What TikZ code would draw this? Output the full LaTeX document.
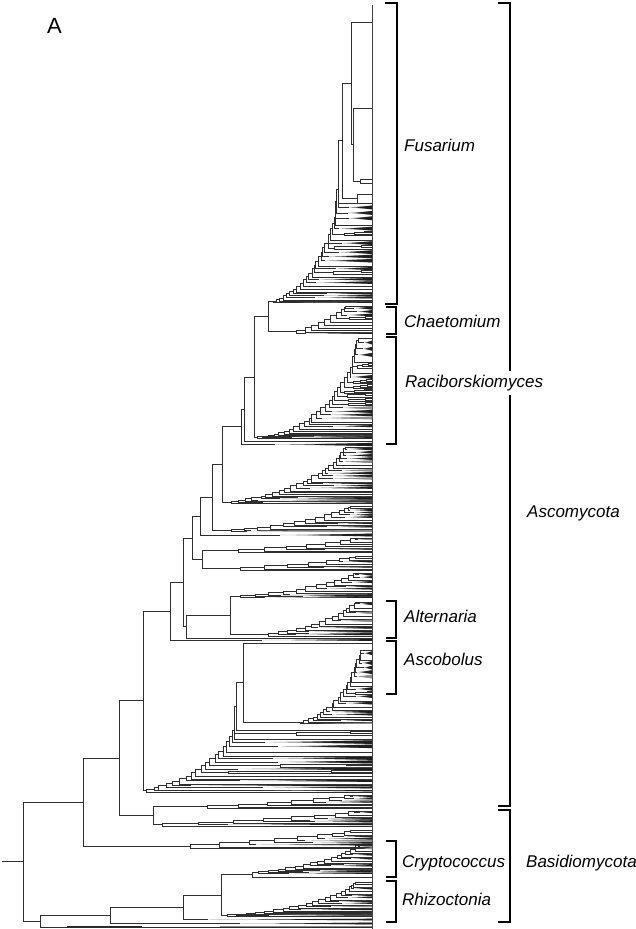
\documentclass[tikz,border=0pt]{standalone}
\usepackage{fontspec}
\setmainfont{Liberation Sans}
\usetikzlibrary{calc}
\def\tipx{372}
\def\Ltop{}
\def\Lp{1.6}
\def\Pw{0.5}
\def\Pm{0.28}
\tikzset{
  br/.style={line width=0.8pt, draw=black!82},
  wedgeA/.style={fill=black!88},
  wedgeB/.style={fill=black!45},
  bracket/.style={line width=1.2pt, draw=black},
  clade/.style={font=\fontsize{17}{20}\selectfont\itshape, anchor=base west, inner sep=0pt},
}
% join two children at a node with abscissa #2
\newcommand\tjoin[4]{%
  \coordinate (J) at (#2,0);
  \draw[br] (#3) -- (#3 -| J) -- (#4 -| J) -- (#4);
  \coordinate (#1) at ($(#3 -| J)!0.5!(#4 -| J)$);
}
% wedge-shaped dense tip group: name, x, y, h, style
\newcommand\wtip[5]{%
  \fill[wedgeB] (#2,#3) -- (\tipx,#3-#4/2) -- (\tipx,#3+#4/2) -- cycle;
  \fill[#5] ({#2+(\tipx-#2)*0.3},#3) -- (\tipx,#3-#4/2) -- (\tipx,#3+#4/2) -- cycle;
  \coordinate (#1) at (#2,#3);
}
% small staircase: name, xs, ytop, h, k
\newcommand\mini[5]{%
  \pgfmathsetmacro\mxe{#2+(\tipx-#2)*0.72}%
  \coordinate (#1-m0) at (\tipx,#3);
  \pgfmathtruncatemacro\mkm{#5-1}%
  \foreach \mi in {1,...,\mkm}{%
    \pgfmathtruncatemacro\mj{\mi-1}%
    \pgfmathsetmacro\mty{#3+#4*\mi/(#5-1)}%
    \pgfmathsetmacro\mnx{\mxe-(\mxe-#2)*(\mi-1)/max(1,#5-2)}%
    \coordinate (MJ) at (\mnx,0);
    \coordinate (#1-q\mi) at (\tipx,\mty);
    \draw[br] (#1-q\mi) -- (#1-q\mi -| MJ) -- (#1-m\mj -| MJ) -- (#1-m\mj);
    \coordinate (#1-m\mi) at ($(#1-q\mi -| MJ)!0.5!(#1-m\mj -| MJ)$);
  }%
}
% ladder clade: name, x0, x1, ybot, ytop, n, q
\newcommand\ladder[7]{%
  \pgfmathtruncatemacro\Ltopi{#6-1}%
  \pgfmathtruncatemacro\Lstart{#6-2}%
  \ifx\Ltop\empty
    \coordinate (#1-a\Ltopi) at (\tipx,#5);
  \else
    \coordinate (#1-a\Ltopi) at (\Ltop);
  \fi
  \foreach \i in {\Lstart,...,0}{%
    \pgfmathtruncatemacro\j{\i+1}%
    \pgfmathsetmacro\ty{#4-(#4-#5)*max(\i/(#6-1),0.01)^#7}%
    \pgfmathsetmacro\gp{(#4-#5)*(((\i+1)/(#6-1))^#7-max(\i/(#6-1),0.01)^#7)}%
    \pgfmathsetmacro\uu{\i/max(1,#6-2)}%
    \pgfmathsetmacro\nx{#2+(#3-#2)*(1-max(1-\uu,0.01)^\Lp)+(rnd-0.5)*2.5*(\i>0)*(\i<#6-2)}%
    \pgfmathsetmacro\hh{min(0.85*\gp,8)}%
    \pgfmathsetmacro\rr{rnd}%
    \pgfmathtruncatemacro\kind{(\rr<\Pw)?1:(((\rr<\Pw+\Pm)&&(\hh>2.6))?2:0)}%
    \pgfmathsetmacro\wx{\nx+(\tipx-\nx)*(0.05+0.45*rnd)}%
    \ifcase\kind\relax
      \coordinate (#1-t\i) at (\tipx,\ty);
    \or
      \pgfmathsetmacro\hw{min(max(\hh,1.3),3.8)}%
      \pgfmathsetmacro\cc{rnd}%
      \pgfmathsetmacro\wy{\ty-\hw/2}%
      \ifdim\cc pt<0.78pt \def\wst{wedgeA}\else\def\wst{wedgeB}\fi
      \wtip{#1-t\i}{\wx}{\wy}{\hw}{\wst}
    \or
      \pgfmathtruncatemacro\kk{min(7,max(3,floor(\hh/1.3)+1))}%
      \pgfmathtruncatemacro\mk{\kk-1}%
      \mini{#1-s\i}{\wx}{\ty-\hh}{\hh}{\kk}%
      \coordinate (#1-t\i) at (#1-s\i-m\mk);
    \fi
    \coordinate (J) at (\nx,0);
    \draw[br] (#1-t\i) -- (#1-t\i -| J) -- (#1-a\j -| J) -- (#1-a\j);
    \coordinate (#1-a\i) at ($(#1-t\i -| J)!0.5!(#1-a\j -| J)$);
  }%
}
\begin{document}
\begin{tikzpicture}[x=1pt,y=-1pt]
\pgfmathsetseed{11}
\fill[white] (0,0) rectangle (635,929);
\useasboundingbox (0,0) rectangle (635,929);
% tip rule
\draw[line width=0.8pt, black!75] (\tipx,5) -- (\tipx,929);
% ---------- Fusarium ----------
\coordinate (f1) at (\tipx,22);
\coordinate (f2) at (\tipx,108);
\coordinate (f3a) at (\tipx,179);
\coordinate (f3b) at (\tipx,183);
\tjoin{f3}{360}{f3a}{f3b}
\tjoin{f23}{353}{f2}{f3}
\tjoin{f123}{351}{f1}{f23}
\coordinate (fc1) at (\tipx,194);
\coordinate (fc2) at (\tipx,203);
\tjoin{fc}{357}{fc1}{fc2}
\tjoin{f4}{342}{f123}{fc}
\def\Ltop{f4}
\ladder{F}{273}{338}{303}{198}{30}{1.6}
\def\Ltop{}
% ---------- Chaetomium ----------
\ladder{C}{296}{345}{334}{306}{11}{1.3}
\tjoin{ND}{268}{F-a0}{C-a0}
% ---------- Raciborskiomyces ----------
\ladder{R}{257}{358}{438}{338}{30}{1.9}
\tjoin{NC}{254}{ND}{R-a0}
\coordinate (t441) at (\tipx,441);
\tjoin{NB}{244}{NC}{t441}
\wtip{t444}{275}{444.5}{3.2}{wedgeA}
\tjoin{NA}{241}{NB}{t444}
% ---------- middle Ascomycota ----------
\ladder{L2}{231}{345}{503}{447}{26}{1.5}
\tjoin{N222}{222}{NA}{L2-a0}
\ladder{L3}{231}{350}{532}{506}{15}{1.4}
\tjoin{N212}{212}{N222}{L3-a0}
\wtip{t535}{280}{535}{2.8}{wedgeA}
\tjoin{N200}{200}{N212}{t535}
\ladder{L4a}{238}{355}{552}{538}{9}{1.3}
\ladder{L4b}{240}{355}{570}{556}{9}{1.3}
\tjoin{N202}{202}{L4a-a0}{L4b-a0}
\tjoin{N192}{192}{N200}{N202}
\ladder{L5}{240}{355}{598}{573}{14}{1.4}
\ladder{Alt}{268}{355}{636}{602}{16}{1.4}
\tjoin{N230}{230}{L5-a0}{Alt-a0}
\coordinate (t637) at (\tipx,638);
\tjoin{N186}{186}{N230}{t637}
\tjoin{N183}{183}{N192}{N186}
\wtip{t639}{262}{640}{1.8}{wedgeA}
\tjoin{N170}{170}{N183}{t639}
% ---------- Ascobolus ----------
\ladder{AscTop}{300}{360}{724}{650}{24}{1.6}
\coordinate (t642) at (\tipx,643);
\tjoin{AscT}{243}{t642}{AscTop-a0}
\def\Ltop{AscT}
\ladder{Asc}{146}{236}{792}{726}{22}{1.5}
\def\Ltop{}
\tjoin{N143}{143}{N170}{Asc-a0}
% ---------- lower part ----------
\ladder{L6}{207}{350}{808}{795}{9}{1.3}
\ladder{L7}{162}{355}{826}{811}{10}{1.3}
\tjoin{N153}{153}{L6-a0}{L7-a0}
\tjoin{N119}{119}{N143}{N153}
\ladder{L8}{190}{350}{848}{830}{10}{1.3}
\tjoin{N83}{83}{N119}{L8-a0}
% ---------- Basidiomycota ----------
\ladder{Cr}{258}{358}{874}{845}{18}{1.3}
\coordinate (t877) at (\tipx,877);
\tjoin{N252}{252}{Cr-a0}{t877}
\ladder{Rh}{227}{355}{916}{882}{22}{1.6}
\tjoin{N221}{221}{N252}{Rh-a0}
\wtip{t919}{208}{919.5}{1.6}{wedgeA}
\tjoin{N183b}{183}{N221}{t919}
\wtip{t923}{240}{923.5}{1.8}{wedgeA}
\tjoin{N110}{110}{N183b}{t923}
\coordinate (t927) at (\tipx,927);
\fill[black!85] (67,926.2) rectangle (142,927.8);
\fill[black!45] (220,926.3) rectangle (\tipx,927.7);
\tjoin{N40}{40}{N110}{t927}
\tjoin{N23}{23}{N83}{N40}
\coordinate (R0) at (2,0);
\draw[br] (N23) -- (N23 -| R0);
% ---------- brackets ----------
\draw[bracket] (385,3) -- (397,3) -- (397,304) -- (385,304);
\draw[bracket] (386,307) -- (396,307) -- (396,334) -- (386,334);
\draw[bracket] (386,337) -- (396,337) -- (396,444) -- (386,444);
\draw[bracket] (386,601) -- (396,601) -- (396,638) -- (386,638);
\draw[bracket] (386,641) -- (396,641) -- (396,694) -- (386,694);
\draw[bracket] (386,841) -- (396,841) -- (396,877) -- (386,877);
\draw[bracket] (386,881) -- (396,881) -- (396,922) -- (386,922);
\draw[bracket] (498,3) -- (510,3) -- (510,806) -- (498,806);
\draw[bracket] (498,810) -- (510,810) -- (510,922) -- (498,922);
% ---------- labels ----------
\node[anchor=base west, inner sep=0pt, font=\fontsize{22}{26}\selectfont] (lA) at (47,33) {A};
\node[clade] (lfus) at (404,151) {Fusarium};
\node[clade] (lcha) at (404,327) {Chaetomium};
\node[clade, fill=white, inner xsep=1pt, inner ysep=4pt] (lrac) at (404,387) {Raciborskiomyces};
\node[clade] (lalt) at (404,622) {Alternaria};
\node[clade] (lasb) at (404,665) {Ascobolus};
\node[clade] (lcry) at (402,867) {Cryptococcus};
\node[clade] (lrhi) at (402,905) {Rhizoctonia};
\node[clade] (lasc) at (527,517) {Ascomycota};
\node[clade] (lbas) at (526,867) {Basidiomycota};
\end{tikzpicture}
\end{document}
